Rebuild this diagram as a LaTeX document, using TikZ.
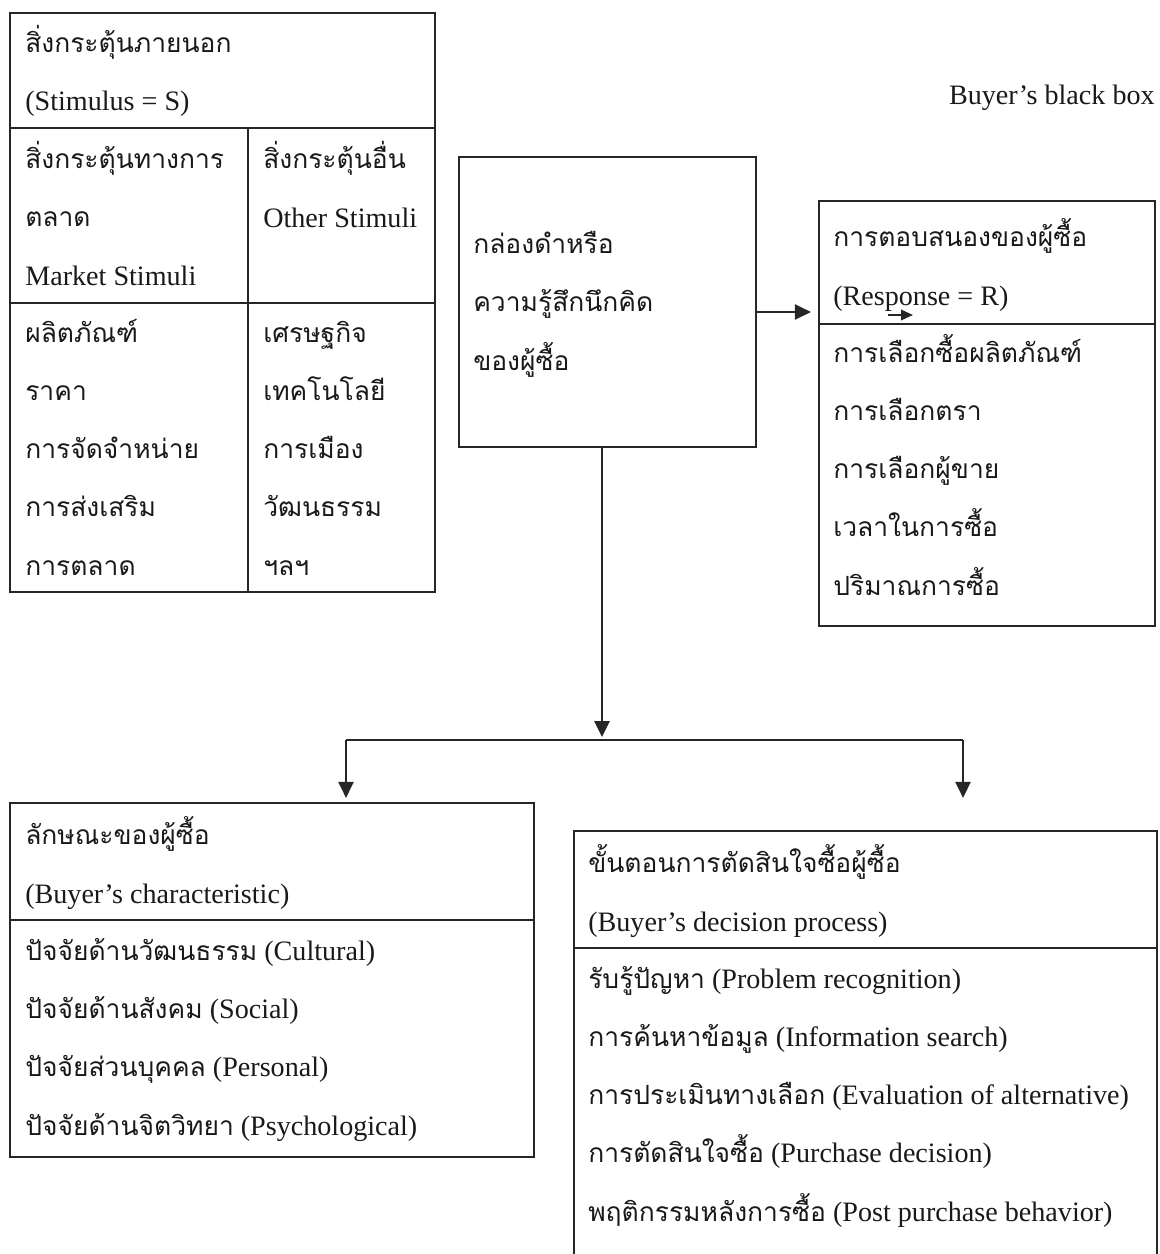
\documentclass[tikz,border=0pt]{standalone}
\usepackage{fontspec}
\setmainfont{Liberation Serif}
\newfontfamily\thaifont[Script=Thai, Scale=0.94]{Loma}
\usetikzlibrary{positioning}
\usetikzlibrary{arrows.meta}
\newcommand{\thai}[1]{{\thaifont #1}}

\begin{document}
\begin{tikzpicture}[
       boxline/.style={line width=1.6pt, color=black!85},
       box/.style={rectangle, draw, boxline, inner sep=0pt},
       txt/.style={anchor=base west, inner sep=0pt, align=left, text=black!90,
                   font=\fontsize{20pt}{41.3pt}\selectfont},
       conn/.style={line width=1.5pt, color=black!85, -{Triangle[length=4mm, width=3.8mm]}}
       ]
       \useasboundingbox (0,0) rectangle (28.975,-31.35);

       \node[box, minimum width=10.625cm, minimum height=14.475cm] (stim) at (5.5625,-7.5625) {};
       \node[box, minimum width=7.425cm, minimum height=7.25cm] (blackbox) at (15.1875,-7.55) {};
       \node[box, minimum width=8.4cm, minimum height=10.625cm] (resp) at (24.675,-10.3375) {};
       \node[box, minimum width=13.1cm, minimum height=8.85cm] (chars) at (6.8,-24.5) {};
       \node[box, minimum width=14.575cm, minimum height=10.975cm] (decide) at (21.6375,-26.2625) {};

       \draw[boxline] (stim.west |- 0,-3.2) -- (stim.east |- 0,-3.2);
       \draw[boxline] (stim.west |- 0,-7.575) -- (stim.east |- 0,-7.575);
       \draw[boxline] (6.2,-3.2) -- (stim.south -| 6.2,0);
       \draw[boxline] (resp.west |- 0,-8.1) -- (resp.east |- 0,-8.1);
       \draw[boxline] (chars.west |- 0,-23) -- (chars.east |- 0,-23);
       \draw[boxline] (decide.west |- 0,-23.7) -- (decide.east |- 0,-23.7);

       % base of a multi-line node = baseline of its last line
       \node[txt] (stim-head) at (0.625,-2.775) {\thai{สิ่งกระตุ้นภายนอก}\\(Stimulus = S)};
       \node[txt] (stim-mkt) at (0.625,-7.125) {\thai{สิ่งกระตุ้นทางการ}\\\thai{ตลาด}\\Market Stimuli};
       \node[txt] (stim-other) at (6.575,-5.675) {\thai{สิ่งกระตุ้นอื่น}\\Other Stimuli};
       \node[txt] (stim-mix) at (0.625,-14.375) {\thai{ผลิตภัณฑ์}\\\thai{ราคา}\\\thai{การจัดจำหน่าย}\\\thai{การส่งเสริม}\\\thai{การตลาด}};
       \node[txt] (stim-env) at (6.575,-14.375) {\thai{เศรษฐกิจ}\\\thai{เทคโนโลยี}\\\thai{การเมือง}\\\thai{วัฒนธรรม}\\\thai{ฯลฯ}};

       \node[txt] (blackbox-text) at (11.825,-9.25) {\thai{กล่องดำหรือ}\\\thai{ความรู้สึกนึกคิด}\\\thai{ของผู้ซื้อ}};
       \node[txt, anchor=base east] (blackbox-label) at (28.875,-2.625) {Buyer’s black box};

       \node[txt] (resp-head) at (20.825,-7.625) {\thai{การตอบสนองของผู้ซื้อ}\\(Response = R)};
       \node[txt] (resp-items) at (20.825,-14.875) {\thai{การเลือกซื้อผลิตภัณฑ์}\\\thai{การเลือกตรา}\\\thai{การเลือกผู้ขาย}\\\thai{เวลาในการซื้อ}\\\thai{ปริมาณการซื้อ}};

       \node[txt] (chars-head) at (0.625,-22.575) {\thai{ลักษณะของผู้ซื้อ}\\(Buyer’s characteristic)};
       \node[txt] (chars-items) at (0.625,-28.375) {\thai{ปัจจัยด้านวัฒนธรรม} (Cultural)\\\thai{ปัจจัยด้านสังคม} (Social)\\\thai{ปัจจัยส่วนบุคคล} (Personal)\\\thai{ปัจจัยด้านจิตวิทยา} (Psychological)};

       \node[txt] (decide-head) at (14.7,-23.275) {\thai{ขั้นตอนการตัดสินใจซื้อผู้ซื้อ}\\(Buyer’s decision process)};
       \node[txt] (decide-items) at (14.7,-30.525) {\thai{รับรู้ปัญหา} (Problem recognition)\\\thai{การค้นหาข้อมูล} (Information search)\\\thai{การประเมินทางเลือก} (Evaluation of alternative)\\\thai{การตัดสินใจซื้อ} (Purchase decision)\\\thai{พฤติกรรมหลังการซื้อ} (Post purchase behavior)};

       \coordinate (split) at (15.05,-18.5);
       \coordinate (split-l) at (8.65,-18.5);
       \coordinate (split-r) at (24.075,-18.5);
       \coordinate (stray-a) at (22.2,-7.875);
       \coordinate (stray-b) at (22.825,-7.875);

       \draw[conn, shorten >=0.075cm] (blackbox.south -| split) -- (split);
       \draw[conn, -] (split-l) -- (split-r);
       \draw[conn, shorten >=0.1cm] (split-l) -- (split-l |- chars.north);
       \draw[conn, shorten >=0.8cm] (split-r) -- (split-r |- decide.north);
       \draw[conn, shorten >=0.175cm] ([yshift=-0.25cm]blackbox.east) -- ([yshift=-0.25cm]blackbox.east -| resp.west);
       \draw[conn, -{Triangle[length=3mm, width=2.6mm]}] (stray-a) -- (stray-b);

\end{tikzpicture}
\end{document}
